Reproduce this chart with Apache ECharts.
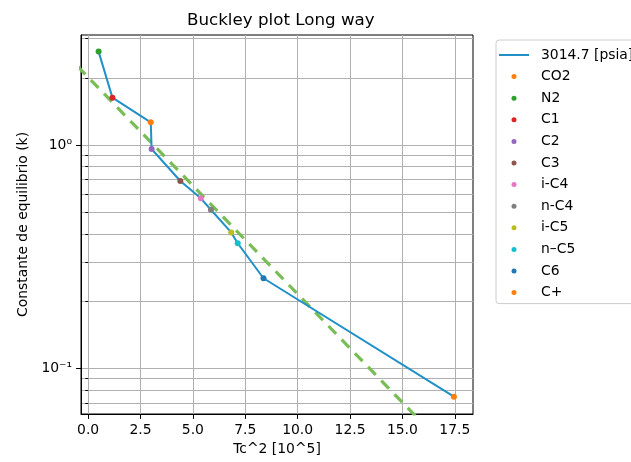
<!DOCTYPE html>
<html>
<head>
<meta charset="utf-8">
<script src="https://cdn.jsdelivr.net/npm/echarts@6/dist/echarts.min.js"></script>
<style>html,body{margin:0;padding:0;background:#fff}#c{width:631px;height:462px}</style>
</head>
<body>
<div id="c"></div>
<script>
// Components (legend order) with Tc^2 [10^5] and K values
const components = ['CO2','N2','C1','C2','C3','i-C4','n-C4','i-C5','n\u2013C5','C6','C+'];
const tc2Values  = [2.99, 0.50, 1.16, 3.03, 4.40, 5.38, 5.86, 6.83, 7.14, 8.37, 17.46];
const kValues    = [1.264, 2.62, 1.63, 0.96, 0.69, 0.577, 0.513, 0.406, 0.363, 0.253, 0.0746];
const compColors = ['#ff7f0e','#2ca02c','#d62728','#9467bd','#8c564b','#e377c2','#7f7f7f','#bcbd22','#17becf','#1f77b4','#ff7f0e'];
// Line connecting points, ordered by Tc^2
const lineName  = '3014.7 [psia]';
const lineOrder = ['N2','C1','CO2','C2','C3','i-C4','n-C4','i-C5','n\u2013C5','C6','C+'];
// Fitted straight line (dashed) endpoints
const fitX = [-0.5, 16.0];
const fitK = [2.25, 0.0562];
// Axis ticks
const xTicks = [0, 2.5, 5, 7.5, 10, 12.5, 15, 17.5];
const yMajorTicks = [0.1, 1];
const yMinorTicks = [0.07, 0.08, 0.09, 0.2, 0.3, 0.4, 0.5, 0.6, 0.7, 0.8, 0.9, 2, 3];

const FONT = 'DejaVu Sans';
const FS = 13.9;
const LINE_COLOR = '#2190c8';
const lineData = lineOrder.map(n => { const i = components.indexOf(n); return [tc2Values[i], kValues[i]]; });

const series = [
  { name: lineName, type: 'line', data: lineData, symbol: 'none', showSymbol: false, z: 3,
    lineStyle: { color: LINE_COLOR, width: 2 }, itemStyle: { color: LINE_COLOR } }
];
components.forEach((c, i) => {
  series.push({ name: c, type: 'scatter', data: [[tc2Values[i], kValues[i]]], symbolSize: 6, z: 4,
    itemStyle: { color: compColors[i], opacity: 1 } });
});
series.push({ name: 'fit', type: 'line', data: fitX.map((x, i) => [x, fitK[i]]), symbol: 'none', z: 2,
  lineStyle: { color: '#78bd55', width: 3.2, type: [11, 8] } });

const ymin = 0.0624, ymax = 3.11;
const option = {
  animation: false,
  backgroundColor: '#fff',
  title: { text: 'Buckley plot Long way', left: 182, top: 7,
    textStyle: { fontFamily: FONT, fontSize: 16.7, fontWeight: 'normal', color: '#000' } },
  legend: {
    left: 496, top: 40, orient: 'vertical', itemWidth: 30, itemHeight: 5, itemGap: 7.6,
    padding: [8, 12, 4, 3], borderColor: '#cccccc', borderWidth: 1, borderRadius: 3,
    textStyle: { fontFamily: FONT, fontSize: FS, color: '#000', padding: [0, 0, 0, 7] },
    data: [{ name: lineName, icon: 'path://M0,0 L30,0 L30,2 L0,2 Z', itemStyle: { color: LINE_COLOR } }]
      .concat(components.map(c => ({ name: c, icon: 'circle' })))
  },
  grid: { left: 81, right: 158, top: 35, bottom: 48, show: true, borderColor: '#000', borderWidth: 1, containLabel: false },
  xAxis: {
    type: 'value', min: -0.34, max: 18.37,
    name: 'Tc^2 [10^5]', nameLocation: 'middle', nameGap: 28,
    nameTextStyle: { fontFamily: FONT, fontSize: FS, color: '#000' },
    axisLine: { show: true, onZero: false, lineStyle: { color: '#000', width: 1 } },
    axisTick: { show: true, length: 4.9, customValues: xTicks, lineStyle: { color: '#000' } },
    axisLabel: { customValues: xTicks, fontFamily: FONT, fontSize: FS, color: '#000', margin: 9,
      formatter: v => Number(v).toFixed(1) },
    splitLine: { show: true, lineStyle: { color: '#b0b0b0', width: 1 } }
  },
  yAxis: [{
    type: 'log', min: ymin, max: ymax,
    name: 'Constante de equilibrio (k)', nameLocation: 'middle', nameGap: 50,
    nameTextStyle: { fontFamily: FONT, fontSize: FS, color: '#000' },
    axisLine: { show: true, onZero: false, lineStyle: { color: '#000', width: 1 } },
    axisTick: { show: true, length: 4.9, customValues: yMajorTicks, lineStyle: { color: '#000' } },
    axisLabel: { customValues: yMajorTicks, fontFamily: FONT, fontSize: FS, color: '#000', margin: 9,
      formatter: v => (Math.abs(v - 1) < 1e-9 ? '10\u2070' : '10\u207B\u00B9') },
    splitLine: { show: true, lineStyle: { color: '#b0b0b0', width: 1 } }
  }, {
    type: 'log', min: ymin, max: ymax, position: 'left',
    axisLine: { show: false },
    axisTick: { show: true, length: 2.8, customValues: yMinorTicks, lineStyle: { color: '#000' } },
    axisLabel: { show: false },
    splitLine: { show: true, lineStyle: { color: '#b0b0b0', width: 1 } }
  }],
  series: series
};
const chart = echarts.init(document.getElementById('c'), null, { renderer: 'canvas' });
chart.setOption(option);
</script>
</body>
</html>
